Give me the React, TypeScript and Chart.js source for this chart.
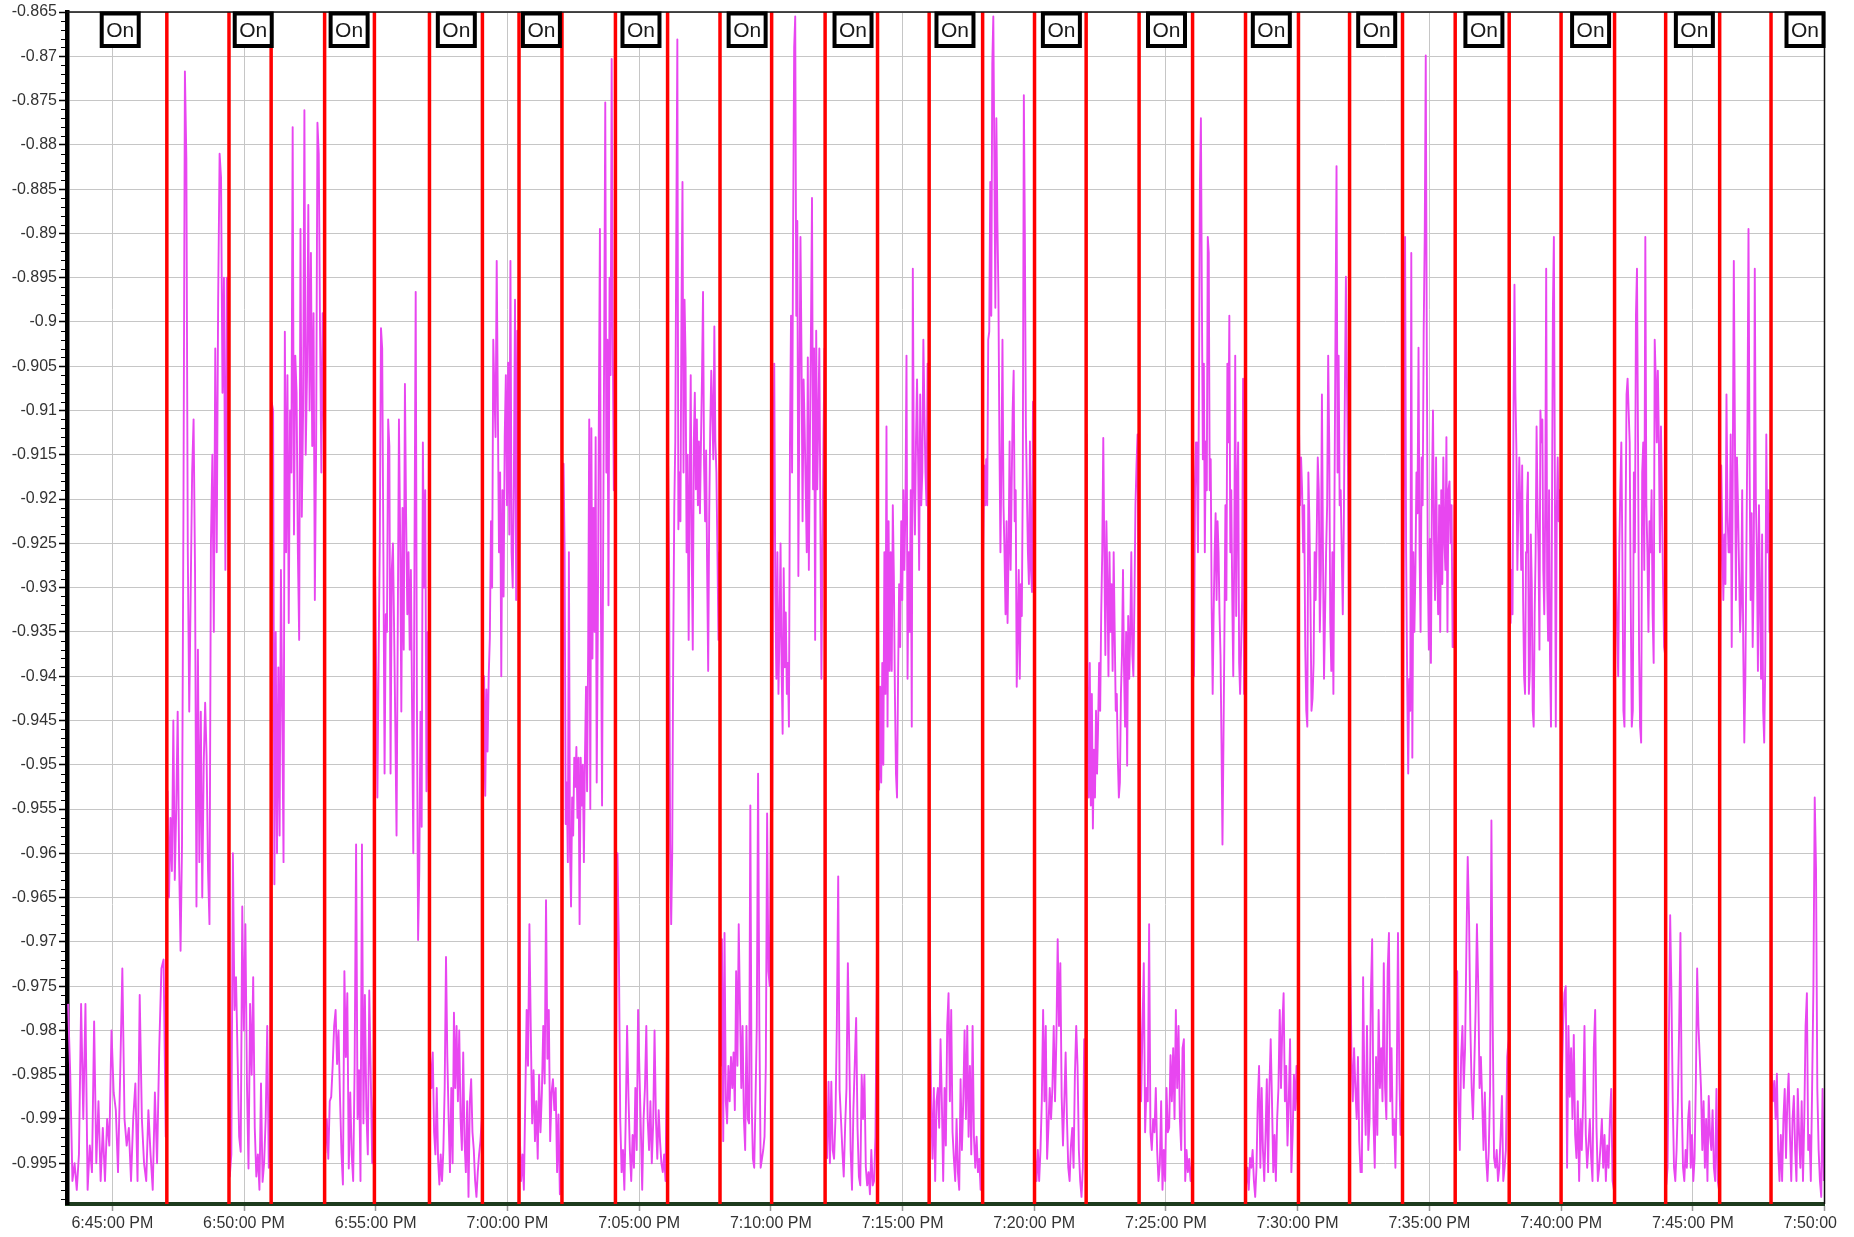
import React, { useEffect, useRef } from "react";
import { Chart, registerables } from "chart.js";

Chart.register(...registerables);

// x values are minutes relative to 6:45:00 PM
const X_MIN = -1.72;
const X_MAX = 65;
const Y_MIN = -0.9996;
const Y_MAX = -0.865;

const xTickMinutes = [0, 5, 10, 15, 20, 25, 30, 35, 40, 45, 50, 55, 60, 65];

const yTickValues = [
  -0.995, -0.99, -0.985, -0.98, -0.975, -0.97, -0.965, -0.96, -0.955, -0.95,
  -0.945, -0.94, -0.935, -0.93, -0.925, -0.92, -0.915, -0.91, -0.905, -0.9,
  -0.895, -0.89, -0.885, -0.88, -0.875, -0.87, -0.865,
];

// red switching lines (minutes after 6:45:00 PM)
const redLineMinutes = [
  2.07, 4.43, 6.03, 8.06, 9.95, 12.04, 14.05, 15.44, 17.07, 19.1, 21.08, 23.07,
  25.03, 27.06, 29.05, 31.01, 33.04, 35.01, 36.97, 38.98, 41.01, 43.02, 45.03,
  46.97, 48.98, 50.98, 53.03, 55.0, 57.03, 58.97, 61.02, 62.97,
];

// "On" label centres (minutes after 6:45:00 PM)
const onLabelMinutes = [
  0.3, 5.35, 8.99, 13.06, 16.29, 20.07, 24.1, 28.12, 31.99, 36.03, 40.02, 44.0,
  48.0, 52.07, 56.12, 60.06, 64.26,
];
const onLabelText = "On";

// signal values, one list per interval between red lines
const segmentValues: number[][] = [
  // 0 On
  [-0.977, -0.985, -0.997, -0.995, -0.998, -0.994, -0.977, -0.99, -0.977, -0.998, -0.993, -0.996, -0.979, -0.995, -0.988, -0.997, -0.991, -0.997, -0.99, -0.993, -0.98, -0.987, -0.989, -0.996, -0.985, -0.973, -0.99, -0.993, -0.991, -0.997, -0.99, -0.986, -0.997, -0.976, -0.99, -0.995, -0.997, -0.989, -0.994, -0.998, -0.987, -0.995, -0.982, -0.973, -0.972, -0.992],
  // 1
  [-0.953, -0.965, -0.956, -0.962, -0.945, -0.963, -0.955, -0.944, -0.961, -0.971, -0.959, -0.921, -0.8717, -0.8815, -0.926, -0.944, -0.9305, -0.917, -0.911, -0.928, -0.966, -0.937, -0.961, -0.944, -0.965, -0.95, -0.943, -0.949, -0.962, -0.968, -0.925, -0.915, -0.935, -0.903, -0.926, -0.8975, -0.881, -0.8837, -0.908, -0.895, -0.928, -0.895, -0.919],
  // 2 On
  [-0.9965, -0.994, -0.96, -0.9777, -0.974, -0.983, -0.992, -0.9937, -0.966, -0.98, -0.968, -0.986, -0.9956, -0.977, -0.985, -0.974, -0.991, -0.9965, -0.994, -0.998, -0.986, -0.9971, -0.995, -0.99, -0.9795, -0.9955, -0.987],
  // 3
  [-0.9091, -0.91, -0.9635, -0.935, -0.96, -0.939, -0.958, -0.928, -0.944, -0.961, -0.9011, -0.926, -0.906, -0.934, -0.91, -0.917, -0.878, -0.924, -0.9038, -0.908, -0.926, -0.9359, -0.8895, -0.922, -0.91, -0.8761, -0.915, -0.906, -0.8868, -0.91, -0.8922, -0.914, -0.899, -0.9314, -0.914, -0.8775, -0.881, -0.901, -0.917, -0.899, -0.913],
  // 4 On
  [-0.9938, -0.99, -0.9945, -0.988, -0.9875, -0.984, -0.9795, -0.9777, -0.9838, -0.98, -0.9875, -0.9938, -0.9974, -0.9733, -0.983, -0.9758, -0.9956, -0.987, -0.994, -0.997, -0.984, -0.959, -0.99, -0.9845, -0.997, -0.959, -0.9905, -0.976, -0.989, -0.994, -0.9755, -0.985, -0.995, -0.987],
  // 5
  [-0.9278, -0.9394, -0.9537, -0.938, -0.925, -0.9007, -0.903, -0.926, -0.951, -0.933, -0.935, -0.911, -0.914, -0.951, -0.928, -0.925, -0.935, -0.946, -0.958, -0.935, -0.911, -0.924, -0.944, -0.921, -0.937, -0.907, -0.922, -0.933, -0.926, -0.937, -0.928, -0.944, -0.96, -0.926, -0.8966, -0.942, -0.9698, -0.962, -0.944, -0.957, -0.9136, -0.93, -0.919, -0.953, -0.935, -0.956],
  // 6 On
  [-0.983, -0.9865, -0.9825, -0.9915, -0.994, -0.9865, -0.9945, -0.9974, -0.994, -0.997, -0.9935, -0.9865, -0.9717, -0.983, -0.99, -0.996, -0.9865, -0.995, -0.978, -0.9865, -0.9795, -0.988, -0.98, -0.99, -0.9935, -0.9825, -0.9925, -0.996, -0.988, -0.9988, -0.988, -0.9855, -0.9915, -0.9935, -0.997, -0.9988, -0.996, -0.994, -0.9925, -0.99],
  // 7
  [-0.9546, -0.94, -0.9535, -0.9415, -0.9485, -0.94, -0.9357, -0.9225, -0.93, -0.902, -0.908, -0.913, -0.8931, -0.9098, -0.926, -0.917, -0.94, -0.919, -0.931, -0.913, -0.906, -0.9207, -0.9046, -0.924, -0.8931, -0.926, -0.93, -0.918, -0.8975, -0.9314, -0.901, -0.918],
  // 8 On
  [-0.9915, -0.997, -0.994, -0.998, -0.988, -0.9777, -0.984, -0.968, -0.98, -0.9905, -0.9845, -0.9925, -0.988, -0.9945, -0.985, -0.9915, -0.987, -0.9795, -0.986, -0.9653, -0.9832, -0.9777, -0.9925, -0.987, -0.9855, -0.989, -0.9865, -0.996, -0.9895, -0.9985, -0.993],
  // 9
  [-0.9635, -0.916, -0.926, -0.9567, -0.952, -0.961, -0.926, -0.9595, -0.966, -0.9537, -0.958, -0.9492, -0.9525, -0.948, -0.956, -0.9492, -0.968, -0.9492, -0.9546, -0.95, -0.961, -0.9492, -0.9412, -0.953, -0.937, -0.911, -0.955, -0.912, -0.938, -0.921, -0.935, -0.913, -0.952, -0.935, -0.911, -0.8895, -0.933, -0.9546, -0.926, -0.902, -0.8752, -0.917, -0.902, -0.932, -0.895, -0.906, -0.8703, -0.902, -0.919, -0.906],
  // 10 On
  [-0.9822, -0.96, -0.9707, -0.99, -0.996, -0.9935, -0.998, -0.99, -0.9795, -0.9875, -0.9935, -0.997, -0.9918, -0.9955, -0.9865, -0.9935, -0.9777, -0.9847, -0.991, -0.998, -0.99, -0.9865, -0.9795, -0.99, -0.9935, -0.988, -0.995, -0.9905, -0.98, -0.99, -0.9945, -0.989, -0.9925, -0.995, -0.996, -0.994, -0.997, -0.9822],
  // 11
  [-0.9162, -0.928, -0.959, -0.968, -0.96, -0.937, -0.921, -0.9135, -0.8895, -0.8681, -0.9234, -0.917, -0.9225, -0.899, -0.8842, -0.917, -0.8975, -0.904, -0.926, -0.915, -0.9359, -0.9189, -0.906, -0.926, -0.937, -0.9135, -0.908, -0.9189, -0.911, -0.9207, -0.9135, -0.9216, -0.9135, -0.906, -0.8966, -0.9162, -0.9225, -0.9145, -0.928, -0.9394, -0.9216, -0.912, -0.9055, -0.91, -0.9155, -0.9005, -0.9135, -0.917, -0.926, -0.9359, -0.926],
  // 12 On
  [-0.984, -0.9697, -0.9925, -0.969, -0.988, -0.9905, -0.984, -0.988, -0.983, -0.9865, -0.9825, -0.989, -0.9733, -0.984, -0.968, -0.9777, -0.9865, -0.9795, -0.99, -0.9935, -0.9795, -0.99, -0.9905, -0.9546, -0.988, -0.9945, -0.9955, -0.988, -0.9795, -0.951, -0.9795, -0.9955, -0.9945, -0.9935, -0.992, -0.984, -0.9555, -0.9733, -0.975, -0.9546],
  // 13
  [-0.9553, -0.9207, -0.9047, -0.9305, -0.9403, -0.926, -0.942, -0.935, -0.925, -0.939, -0.9465, -0.9278, -0.939, -0.9328, -0.942, -0.9385, -0.9457, -0.9135, -0.8993, -0.917, -0.8895, -0.869, -0.8655, -0.8993, -0.8886, -0.9287, -0.908, -0.8904, -0.904, -0.9225, -0.9065, -0.912, -0.919, -0.926, -0.904, -0.928, -0.9135, -0.901, -0.886, -0.9189, -0.903, -0.9359, -0.901, -0.9189, -0.911, -0.903, -0.922, -0.9403, -0.926, -0.9125, -0.903],
  // 14 On
  [-0.99, -0.9944, -0.9858, -0.995, -0.9858, -0.9935, -0.9945, -0.99, -0.9795, -0.9626, -0.9867, -0.99, -0.9935, -0.9965, -0.991, -0.9865, -0.9724, -0.982, -0.9935, -0.998, -0.989, -0.9838, -0.9786, -0.991, -0.9965, -0.9975, -0.985, -0.99, -0.985, -0.9954, -0.9975, -0.996, -0.9985, -0.9935, -0.9975, -0.997, -0.992, -0.9742],
  // 15
  [-0.932, -0.9528, -0.9412, -0.952, -0.9385, -0.95, -0.926, -0.942, -0.9118, -0.9457, -0.9225, -0.9394, -0.926, -0.9394, -0.9207, -0.9287, -0.942, -0.951, -0.9537, -0.9403, -0.9296, -0.9367, -0.9225, -0.9314, -0.919, -0.928, -0.9207, -0.9038, -0.9403, -0.926, -0.935, -0.919, -0.9457, -0.894, -0.917, -0.924, -0.9135, -0.9065, -0.9155, -0.928, -0.9082, -0.9207, -0.917, -0.902, -0.91, -0.917, -0.9207, -0.9047, -0.943],
  // 16 On
  [-0.975, -0.988, -0.9945, -0.9865, -0.997, -0.988, -0.9865, -0.991, -0.981, -0.988, -0.997, -0.9865, -0.993, -0.9795, -0.9758, -0.988, -0.9777, -0.9915, -0.9945, -0.997, -0.99, -0.996, -0.998, -0.9855, -0.9935, -0.988, -0.98, -0.99, -0.9795, -0.992, -0.984, -0.994, -0.9795, -0.992, -0.9955, -0.992, -0.996, -0.9945, -0.998, -0.975],
  // 17
  [-0.926, -0.9162, -0.9207, -0.9155, -0.9207, -0.902, -0.9011, -0.8842, -0.8993, -0.8708, -0.8655, -0.8815, -0.8984, -0.877, -0.8886, -0.8966, -0.9135, -0.926, -0.9155, -0.902, -0.9207, -0.926, -0.933, -0.9225, -0.934, -0.926, -0.9135, -0.928, -0.919, -0.91, -0.9055, -0.9225, -0.919, -0.9412, -0.935, -0.928, -0.9403, -0.9296, -0.9332, -0.917, -0.8744, -0.89, -0.9118, -0.919, -0.926, -0.9296, -0.9135, -0.928, -0.9305, -0.909, -0.926],
  // 18 On
  [-0.9944, -0.997, -0.9935, -0.997, -0.9935, -0.988, -0.9777, -0.988, -0.9795, -0.9945, -0.991, -0.9865, -0.99, -0.9865, -0.9795, -0.988, -0.981, -0.9697, -0.9795, -0.9724, -0.9875, -0.993, -0.988, -0.9825, -0.99, -0.9955, -0.997, -0.993, -0.991, -0.9955, -0.985, -0.9795, -0.984, -0.9935, -0.997, -0.9988, -0.9955, -0.981, -0.99],
  // 19
  [-0.9127, -0.942, -0.9537, -0.9385, -0.9546, -0.942, -0.9572, -0.9483, -0.9537, -0.9439, -0.951, -0.9457, -0.9385, -0.9439, -0.933, -0.926, -0.9131, -0.926, -0.9376, -0.9225, -0.9296, -0.94, -0.926, -0.935, -0.9296, -0.9394, -0.926, -0.935, -0.9439, -0.942, -0.9492, -0.9537, -0.952, -0.942, -0.9376, -0.928, -0.9394, -0.9457, -0.935, -0.9501, -0.9332, -0.9403, -0.935, -0.926, -0.9376, -0.94, -0.9314, -0.9207, -0.9162, -0.9127, -0.9314],
  // 20 On
  [-0.9724, -0.988, -0.98, -0.9724, -0.9915, -0.9865, -0.988, -0.968, -0.9915, -0.9935, -0.99, -0.9915, -0.9865, -0.9935, -0.997, -0.9952, -0.988, -0.998, -0.9935, -0.997, -0.9865, -0.9915, -0.991, -0.9828, -0.988, -0.982, -0.99, -0.9777, -0.9865, -0.9795, -0.99, -0.9935, -0.982, -0.981, -0.997, -0.9935, -0.996, -0.9945, -0.997, -0.9952],
  // 21
  [-0.9091, -0.94, -0.919, -0.9136, -0.917, -0.926, -0.9082, -0.8842, -0.877, -0.8975, -0.9155, -0.9047, -0.926, -0.9135, -0.919, -0.8904, -0.8922, -0.919, -0.9155, -0.9323, -0.942, -0.933, -0.926, -0.9216, -0.9314, -0.9225, -0.926, -0.933, -0.9376, -0.9475, -0.959, -0.9475, -0.935, -0.9207, -0.9314, -0.9047, -0.9136, -0.8993, -0.926, -0.919, -0.9314, -0.94, -0.926, -0.9038, -0.9332, -0.919, -0.9136, -0.9385, -0.942, -0.9367, -0.9314, -0.9064, -0.942, -0.905],
  // 22 On
  [-0.9974, -0.9955, -0.998, -0.9944, -0.9955, -0.9935, -0.997, -0.9988, -0.9955, -0.988, -0.984, -0.9955, -0.9865, -0.9935, -0.997, -0.9918, -0.9855, -0.996, -0.9865, -0.981, -0.988, -0.996, -0.9918, -0.997, -0.99, -0.9865, -0.9777, -0.9865, -0.9795, -0.9758, -0.988, -0.984, -0.993, -0.988, -0.981, -0.996, -0.9918, -0.985, -0.989, -0.984, -0.989],
  // 23
  [-0.9118, -0.9207, -0.9153, -0.919, -0.926, -0.9207, -0.9367, -0.9439, -0.9457, -0.917, -0.9225, -0.9314, -0.9439, -0.9425, -0.9385, -0.926, -0.9314, -0.924, -0.9153, -0.919, -0.935, -0.928, -0.9082, -0.926, -0.9403, -0.9332, -0.926, -0.9207, -0.9038, -0.9136, -0.934, -0.9394, -0.926, -0.942, -0.9207, -0.9011, -0.8824, -0.917, -0.9038, -0.9207, -0.919, -0.926, -0.933, -0.9225, -0.9082, -0.8949, -0.9064, -0.917, -0.935],
  // 24 On
  [-0.9715, -0.983, -0.988, -0.982, -0.9865, -0.99, -0.983, -0.9925, -0.996, -0.996, -0.974, -0.9865, -0.9918, -0.9795, -0.9935, -0.99, -0.9758, -0.9697, -0.99, -0.9955, -0.983, -0.9918, -0.9777, -0.9865, -0.982, -0.988, -0.9724, -0.9865, -0.99, -0.9733, -0.969, -0.988, -0.982, -0.9918, -0.99, -0.9955, -0.9865, -0.969, -0.9845, -0.9918, -0.988],
  // 25
  [-0.9465, -0.9162, -0.8904, -0.926, -0.9403, -0.951, -0.9403, -0.9439, -0.8922, -0.9492, -0.926, -0.935, -0.928, -0.917, -0.9216, -0.9029, -0.926, -0.935, -0.9153, -0.9207, -0.9011, -0.8904, -0.8699, -0.9029, -0.928, -0.937, -0.9245, -0.9385, -0.919, -0.91, -0.9245, -0.9314, -0.9153, -0.928, -0.933, -0.9207, -0.935, -0.919, -0.9296, -0.9153, -0.9245, -0.928, -0.913, -0.935, -0.919, -0.918, -0.925, -0.9207, -0.9367, -0.9367, -0.9207],
  // 26 On
  [-0.9777, -0.9733, -0.988, -0.9935, -0.983, -0.9795, -0.9865, -0.982, -0.9707, -0.9604, -0.967, -0.9795, -0.9865, -0.99, -0.984, -0.9777, -0.968, -0.975, -0.9865, -0.983, -0.988, -0.9935, -0.987, -0.9944, -0.997, -0.9935, -0.9865, -0.9563, -0.9795, -0.9944, -0.9955, -0.9935, -0.997, -0.9955, -0.9918, -0.9874, -0.997, -0.9955, -0.9935, -0.983, -0.981],
  // 27
  [-0.9145, -0.934, -0.928, -0.933, -0.91, -0.8958, -0.9082, -0.9145, -0.928, -0.9216, -0.9153, -0.9207, -0.928, -0.9162, -0.9314, -0.94, -0.942, -0.926, -0.9207, -0.917, -0.942, -0.9394, -0.924, -0.9296, -0.9439, -0.9457, -0.933, -0.926, -0.9118, -0.9207, -0.926, -0.937, -0.91, -0.9136, -0.911, -0.928, -0.933, -0.9207, -0.894, -0.9296, -0.936, -0.919, -0.9385, -0.9457, -0.9225, -0.8984, -0.8904, -0.917, -0.9457, -0.9216, -0.9153, -0.9225, -0.919, -0.9376],
  // 28 On
  [-0.9866, -0.9795, -0.9758, -0.975, -0.9955, -0.9795, -0.9875, -0.982, -0.99, -0.9805, -0.9918, -0.9944, -0.988, -0.997, -0.99, -0.9935, -0.988, -0.9795, -0.9918, -0.9955, -0.993, -0.99, -0.9944, -0.997, -0.982, -0.9777, -0.991, -0.997, -0.9955, -0.993, -0.99, -0.9955, -0.9918, -0.997, -0.993, -0.9955, -0.99, -0.9866, -0.997, -0.998],
  // 29
  [-0.9189, -0.928, -0.935, -0.94, -0.926, -0.9189, -0.9136, -0.926, -0.9439, -0.9457, -0.924, -0.9082, -0.9064, -0.91, -0.9136, -0.9314, -0.9457, -0.9439, -0.917, -0.926, -0.8993, -0.894, -0.9136, -0.937, -0.9457, -0.9475, -0.917, -0.9136, -0.928, -0.8904, -0.9207, -0.926, -0.935, -0.9225, -0.926, -0.919, -0.933, -0.9385, -0.902, -0.9064, -0.9136, -0.9055, -0.9136, -0.926, -0.9118, -0.9207, -0.9296, -0.9367, -0.9376],
  // 30 On
  [-0.9974, -0.9955, -0.981, -0.967, -0.9758, -0.988, -0.9955, -0.997, -0.9935, -0.988, -0.9795, -0.969, -0.988, -0.9955, -0.997, -0.9935, -0.9955, -0.99, -0.988, -0.9955, -0.9918, -0.997, -0.9944, -0.9857, -0.973, -0.9795, -0.983, -0.9866, -0.9935, -0.988, -0.9955, -0.99, -0.997, -0.9874, -0.9918, -0.9935, -0.989, -0.9955, -0.997, -0.9866, -0.997, -0.998],
  // 31
  [-0.9412, -0.9162, -0.924, -0.9314, -0.924, -0.9296, -0.9082, -0.9216, -0.926, -0.926, -0.9127, -0.9367, -0.917, -0.8931, -0.9118, -0.9314, -0.9153, -0.9207, -0.928, -0.935, -0.9314, -0.919, -0.9367, -0.9475, -0.9403, -0.926, -0.9118, -0.8895, -0.9153, -0.9314, -0.9216, -0.9367, -0.9287, -0.894, -0.9198, -0.926, -0.9394, -0.9207, -0.9314, -0.9403, -0.924, -0.9439, -0.9475, -0.9385, -0.9127, -0.926, -0.919, -0.935, -0.9216],
  // 32 On
  [-0.9849, -0.988, -0.9857, -0.99, -0.9849, -0.9935, -0.997, -0.9918, -0.997, -0.99, -0.9866, -0.9944, -0.988, -0.9849, -0.9918, -0.997, -0.99, -0.9874, -0.9935, -0.997, -0.9866, -0.9918, -0.9955, -0.988, -0.997, -0.99, -0.9795, -0.9758, -0.9935, -0.9918, -0.997, -0.9866, -0.975, -0.9537, -0.9617, -0.9866, -0.9935, -0.997, -0.9988, -0.9866, -0.997],
];

const FONT = "'Liberation Sans', Arial, Helvetica, sans-serif";

function formatClock(m: number): string {
  const total = 18 * 60 + 45 + Math.round(m);
  const h24 = Math.floor(total / 60);
  const mm = total % 60;
  const h12 = h24 % 12 === 0 ? 12 : h24 % 12;
  const suffix = h24 >= 12 ? "PM" : "AM";
  return `${h12}:${String(mm).padStart(2, "0")}:00 ${suffix}`;
}

function buildPoints() {
  const bounds = [X_MIN, ...redLineMinutes, X_MAX];
  const pts: { x: number; y: number }[] = [];
  segmentValues.forEach((vals, k) => {
    const a = bounds[k];
    const b = bounds[k + 1];
    const step = (b - a) / vals.length;
    vals.forEach((v, i) => pts.push({ x: a + (i + 0.5) * step, y: v }));
  });
  return pts;
}

const overlayPlugin = {
  id: "overlay",
  afterDatasetsDraw(chart: any) {
    const { ctx, chartArea, scales } = chart;
    const xs = scales.x;
    const ys = scales.y;
    ctx.save();
    // red switching lines
    ctx.strokeStyle = "#ff0000";
    ctx.lineWidth = 3.5;
    redLineMinutes.forEach((m) => {
      const px = xs.getPixelForValue(m);
      ctx.beginPath();
      ctx.moveTo(px, chartArea.top);
      ctx.lineTo(px, chartArea.bottom);
      ctx.stroke();
    });
    // top and right frame
    ctx.strokeStyle = "#111";
    ctx.lineWidth = 1.5;
    ctx.beginPath();
    ctx.moveTo(chartArea.left, chartArea.top);
    ctx.lineTo(chartArea.right, chartArea.top);
    ctx.lineTo(chartArea.right, chartArea.bottom);
    ctx.stroke();
    // minor ticks on y axis
    ctx.strokeStyle = "#000";
    ctx.lineWidth = 1;
    for (let i = 0; i <= 135; i++) {
      const v = Y_MAX - i * 0.001;
      if (v < Y_MIN) break;
      if (i % 5 === 0) continue;
      const py = Math.round(ys.getPixelForValue(v)) + 0.5;
      ctx.beginPath();
      ctx.moveTo(chartArea.left - 6, py);
      ctx.lineTo(chartArea.left - 2, py);
      ctx.stroke();
    }
    // "On" boxes
    onLabelMinutes.forEach((m) => {
      const cx = xs.getPixelForValue(m);
      const w = 37;
      const h = 32.5;
      const top = chartArea.top + 1.5;
      ctx.fillStyle = "#ffffff";
      ctx.fillRect(cx - w / 2, top, w, h);
      ctx.strokeStyle = "#000";
      ctx.lineWidth = 4;
      ctx.strokeRect(cx - w / 2, top, w, h);
      ctx.fillStyle = "#1a1a1a";
      ctx.font = `21px ${FONT}`;
      ctx.textAlign = "center";
      ctx.textBaseline = "middle";
      ctx.fillText(onLabelText, cx, top + h / 2 + 1);
    });
    ctx.restore();
  },
};

export default function App() {
  const ref = useRef<HTMLCanvasElement>(null);

  useEffect(() => {
    const canvas = ref.current;
    if (!canvas) return;
    const chart = new Chart(canvas, {
      type: "line",
      data: {
        datasets: [
          {
            data: buildPoints(),
            borderColor: "#e846f0",
            borderWidth: 1.9,
            pointRadius: 0,
            tension: 0,
            fill: false,
            borderJoinStyle: "round",
          } as any,
        ],
      },
      options: {
        responsive: false,
        animation: false,
        devicePixelRatio: 1,
        events: [],
        parsing: false,
        normalized: true,
        layout: { padding: { left: 0, right: 1900 - 1824.5, top: 12, bottom: 0 } },
        plugins: {
          legend: { display: false },
          tooltip: { enabled: false },
          title: { display: false },
        },
        scales: {
          x: {
            type: "linear",
            min: X_MIN,
            max: X_MAX,
            afterBuildTicks: (s: any) => {
              s.ticks = xTickMinutes.map((v) => ({ value: v }));
            },
            afterFit: (s: any) => {
              s.height = 33;
            },
            ticks: {
              autoSkip: false,
              maxRotation: 0,
              minRotation: 0,
              padding: 3,
              color: "#333",
              font: { family: FONT, size: 16 },
              callback: (v: any) => formatClock(Number(v)),
            },
            grid: {
              color: "#c6c6c6",
              lineWidth: 1,
              drawTicks: true,
              tickLength: 7,
              tickColor: "#9a9a9a",
              tickWidth: 1.5,
            },
            border: { display: true, color: "#1d3b1d", width: 4 },
          },
          y: {
            type: "linear",
            min: Y_MIN,
            max: Y_MAX,
            afterBuildTicks: (s: any) => {
              s.ticks = yTickValues.map((v) => ({ value: v }));
            },
            afterFit: (s: any) => {
              s.width = 67;
            },
            ticks: {
              autoSkip: false,
              padding: 2,
              color: "#333",
              font: { family: FONT, size: 16 },
              callback: (v: any) => String(parseFloat(Number(v).toFixed(3))),
            },
            grid: {
              color: "#c6c6c6",
              lineWidth: 1,
              drawTicks: true,
              tickLength: 8,
              tickColor: "#000",
              tickWidth: 1.5,
            },
            border: { display: true, color: "#000", width: 4.5 },
          },
        },
      } as any,
      plugins: [overlayPlugin],
    });
    return () => chart.destroy();
  }, []);

  return (
    <div
      style={{
        position: "fixed",
        left: 0,
        top: 0,
        width: 1838,
        height: 1237,
        overflow: "hidden",
        background: "#ffffff",
      }}
    >
      <canvas
        ref={ref}
        width={1900}
        height={1237}
        style={{ display: "block", width: 1900, height: 1237 }}
      />
    </div>
  );
}
